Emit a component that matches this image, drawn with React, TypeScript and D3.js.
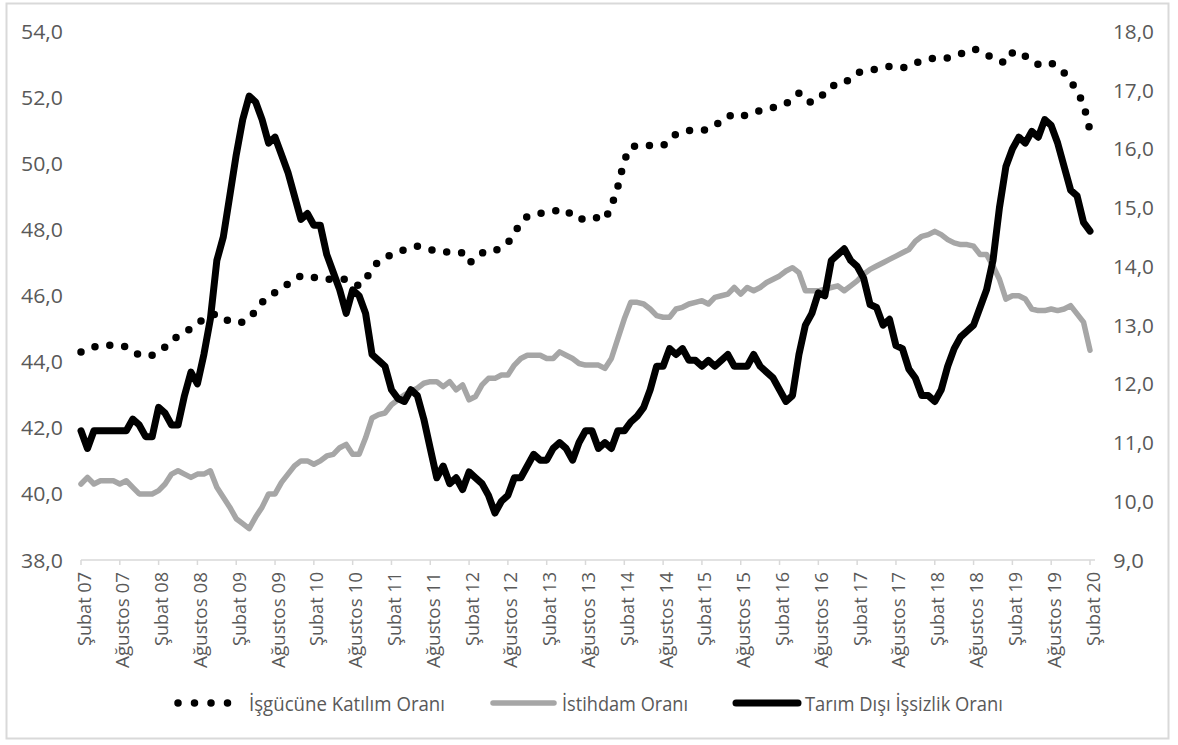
import React from "react";
import * as d3 from "d3";

// Monthly data, Şubat 2007 (index 0) .. Şubat 2020 (index 156)
const tickLabels = [
  "Şubat 07", "Ağustos 07", "Şubat 08", "Ağustos 08", "Şubat 09", "Ağustos 09",
  "Şubat 10", "Ağustos 10", "Şubat 11", "Ağustos 11", "Şubat 12", "Ağustos 12",
  "Şubat 13", "Ağustos 13", "Şubat 14", "Ağustos 14", "Şubat 15", "Ağustos 15",
  "Şubat 16", "Ağustos 16", "Şubat 17", "Ağustos 17", "Şubat 18", "Ağustos 18",
  "Şubat 19", "Ağustos 19", "Şubat 20",
];

const leftTicks = [38, 40, 42, 44, 46, 48, 50, 52, 54];
const rightTicks = [9, 10, 11, 12, 13, 14, 15, 16, 17, 18];

// İşgücüne Katılım Oranı (left axis)
const katilim = [
  44.3, 44.4, 44.45, 44.5, 44.5, 44.5, 44.5, 44.45, 44.35, 44.2,
  44.2, 44.2, 44.3, 44.45, 44.6, 44.8, 44.9, 45.0, 45.15, 45.3,
  45.4, 45.45, 45.35, 45.2, 45.2, 45.2, 45.3, 45.55, 45.8, 45.95,
  46.1, 46.25, 46.35, 46.5, 46.6, 46.6, 46.55, 46.55, 46.5, 46.5,
  46.5, 46.5, 46.4, 46.3, 46.5, 46.8, 47.05, 47.15, 47.25, 47.3,
  47.4, 47.45, 47.5, 47.45, 47.4, 47.35, 47.35, 47.3, 47.3, 47.3,
  47.0, 47.1, 47.3, 47.3, 47.35, 47.5, 47.6, 47.9, 48.2, 48.4,
  48.45, 48.5, 48.5, 48.55, 48.6, 48.6, 48.4, 48.3, 48.35, 48.4,
  48.35, 48.3, 48.7, 49.3, 50.1, 50.5, 50.55, 50.55, 50.55, 50.55,
  50.55, 50.7, 50.9, 50.95, 51.0, 51.0, 51.0, 51.05, 51.15, 51.3,
  51.45, 51.45, 51.4, 51.5, 51.55, 51.6, 51.65, 51.7, 51.75, 51.8,
  52.0, 52.13, 51.9, 51.85, 51.95, 52.15, 52.35, 52.4, 52.42, 52.6,
  52.75, 52.8, 52.83, 52.86, 52.9, 52.94, 52.92, 52.9, 52.95, 53.05,
  53.1, 53.15, 53.2, 53.2, 53.2, 53.25, 53.32, 53.4, 53.47, 53.42,
  53.3, 53.2, 53.1, 53.05, 53.35, 53.4, 53.25, 53.1, 53.0, 53.0,
  53.05, 52.9, 52.75, 52.5, 52.2, 51.8, 51.0,
];

// İstihdam Oranı (left axis)
const istihdam = [
  40.3, 40.5, 40.3, 40.4, 40.4, 40.4, 40.3, 40.4, 40.2, 40.0,
  40.0, 40.0, 40.1, 40.3, 40.6, 40.7, 40.6, 40.5, 40.6, 40.6,
  40.7, 40.2, 39.9, 39.6, 39.25, 39.1, 38.95, 39.3, 39.6, 40.0,
  40.0, 40.35, 40.6, 40.85, 41.0, 41.0, 40.9, 41.0, 41.15, 41.2,
  41.4, 41.5, 41.2, 41.2, 41.7, 42.3, 42.4, 42.45, 42.7, 42.85,
  43.0, 43.1, 43.2, 43.35, 43.4, 43.4, 43.25, 43.4, 43.15, 43.3,
  42.85, 42.95, 43.3, 43.5, 43.5, 43.6, 43.6, 43.9, 44.1, 44.2,
  44.2, 44.2, 44.1, 44.1, 44.3, 44.2, 44.1, 43.95, 43.9, 43.9,
  43.9, 43.8, 44.1, 44.7, 45.3, 45.8, 45.8, 45.75, 45.6, 45.4,
  45.35, 45.35, 45.6, 45.65, 45.75, 45.8, 45.85, 45.75, 45.95, 46.0,
  46.05, 46.25, 46.05, 46.25, 46.15, 46.25, 46.4, 46.5, 46.6, 46.75,
  46.85, 46.7, 46.15, 46.15, 46.15, 46.2, 46.25, 46.3, 46.15, 46.3,
  46.45, 46.65, 46.8, 46.9, 47.0, 47.1, 47.2, 47.3, 47.4, 47.65,
  47.8, 47.85, 47.95, 47.85, 47.7, 47.6, 47.55, 47.55, 47.5, 47.25,
  47.25, 46.9, 46.5, 45.9, 46.0, 46.0, 45.9, 45.6, 45.55, 45.55,
  45.6, 45.55, 45.6, 45.7, 45.45, 45.2, 44.35,
];

// Tarım Dışı İşsizlik Oranı (right axis)
const issizlik = [
  11.2, 10.9, 11.2, 11.2, 11.2, 11.2, 11.2, 11.2, 11.4, 11.3,
  11.1, 11.1, 11.6, 11.5, 11.3, 11.3, 11.8, 12.2, 12.0, 12.5,
  13.1, 14.1, 14.5, 15.2, 15.9, 16.5, 16.9, 16.8, 16.5, 16.1,
  16.2, 15.9, 15.6, 15.2, 14.8, 14.9, 14.7, 14.7, 14.2, 13.9,
  13.6, 13.2, 13.6, 13.5, 13.2, 12.5, 12.4, 12.3, 11.9, 11.75,
  11.7, 11.9, 11.8, 11.4, 10.9, 10.4, 10.6, 10.3, 10.4, 10.2,
  10.5, 10.4, 10.3, 10.1, 9.8, 10.0, 10.1, 10.4, 10.4, 10.6,
  10.8, 10.7, 10.7, 10.9, 11.0, 10.9, 10.7, 11.0, 11.2, 11.2,
  10.9, 11.0, 10.9, 11.2, 11.2, 11.35, 11.45, 11.6, 11.9, 12.3,
  12.3, 12.6, 12.5, 12.6, 12.4, 12.4, 12.3, 12.4, 12.3, 12.4,
  12.5, 12.3, 12.3, 12.3, 12.5, 12.3, 12.2, 12.1, 11.9, 11.7,
  11.8, 12.5, 13.0, 13.2, 13.55, 13.5, 14.1, 14.2, 14.3, 14.1,
  14.0, 13.8, 13.35, 13.3, 13.0, 13.1, 12.65, 12.6, 12.25, 12.1,
  11.8, 11.8, 11.7, 11.9, 12.3, 12.6, 12.8, 12.9, 13.0, 13.3,
  13.6, 14.1, 15.0, 15.7, 16.0, 16.2, 16.1, 16.3, 16.2, 16.5,
  16.4, 16.1, 15.7, 15.3, 15.2, 14.75, 14.6,
];

const legendItems = [
  "İşgücüne Katılım Oranı",
  "İstihdam Oranı",
  "Tarım Dışı İşsizlik Oranı",
];

const W = 1178;
const H = 745;
const FONT = "'Open Sans', 'Noto Sans', sans-serif";
const TEXT = "#595959";
const GRID = "#d9d9d9";

export default function App() {
  const n = katilim.length;
  const x = d3.scaleLinear().domain([0, n - 1]).range([81, 1090]);
  const yL = d3.scaleLinear().domain([38, 54]).range([560, 31.5]);
  const yR = d3.scaleLinear().domain([9, 18]).range([560, 31.5]);

  const lineL = d3
    .line<number>()
    .x((_, i) => x(i))
    .y((d) => yL(d));
  const lineR = d3
    .line<number>()
    .x((_, i) => x(i))
    .y((d) => yR(d));

  const axisY = 560;
  const tickStep = 6;

  return (
    <svg
      width={W}
      height={H}
      style={{ position: "absolute", left: 0, top: 0, background: "#fff" }}
      fontFamily={FONT}
    >
      <rect x={0} y={0} width={W} height={H} fill="#fff" />
      <rect x={6.5} y={3.5} width={1162} height={735} fill="none" stroke={GRID} strokeWidth={2} />

      {/* left axis labels */}
      {leftTicks.map((v) => (
        <text
          key={"l" + v}
          x={63}
          y={yL(v)}
          textAnchor="end"
          dominantBaseline="central"
          fontSize={19.5}
          fill={TEXT}
          textLength={42}
          lengthAdjust="spacingAndGlyphs"
        >
          {v.toFixed(1).replace(".", ",")}
        </text>
      ))}

      {/* right axis labels */}
      {rightTicks.map((v) => (
        <text
          key={"r" + v}
          x={1113}
          y={yR(v)}
          textAnchor="start"
          dominantBaseline="central"
          fontSize={19.5}
          fill={TEXT}
          textLength={v >= 10 ? 41 : 31}
          lengthAdjust="spacingAndGlyphs"
        >
          {v.toFixed(1).replace(".", ",")}
        </text>
      ))}

      {/* category axis */}
      <line x1={x(0)} x2={x(n - 1) + 5} y1={axisY} y2={axisY} stroke={GRID} strokeWidth={1.5} />
      {tickLabels.map((lab, k) => {
        const xi = x(k * tickStep);
        return (
          <g key={"t" + k}>
            <line x1={xi} x2={xi} y1={axisY} y2={axisY + 5} stroke={GRID} strokeWidth={1.5} />
            <text
              transform={`translate(${xi + 2},${axisY + 12}) rotate(-90)`}
              textAnchor="end"
              dominantBaseline="central"
              fontSize={18.5}
              fill={TEXT}
              textLength={lab.startsWith("Ş") ? 74 : 96}
              lengthAdjust="spacingAndGlyphs"
            >
              {lab}
            </text>
          </g>
        );
      })}

      {/* series */}
      <path
        d={lineL(katilim) || ""}
        fill="none"
        stroke="#000"
        strokeWidth={7.5}
        strokeLinecap="round"
        strokeLinejoin="round"
        strokeDasharray="0 15"
      />
      <path
        d={lineL(istihdam) || ""}
        fill="none"
        stroke="#a6a6a6"
        strokeWidth={5.5}
        strokeLinecap="round"
        strokeLinejoin="round"
      />
      <path
        d={lineR(issizlik) || ""}
        fill="none"
        stroke="#000"
        strokeWidth={7}
        strokeLinecap="round"
        strokeLinejoin="round"
      />

      {/* legend */}
      <g>
        <line x1={178} x2={229} y1={703} y2={703} stroke="#000" strokeWidth={7.5} strokeLinecap="round" strokeDasharray="0 16.5" />
        <text x={249} y={703} dominantBaseline="central" fontSize={19.5} fill={TEXT} textLength={196} lengthAdjust="spacingAndGlyphs">
          {legendItems[0]}
        </text>
        <line x1={493} x2={554} y1={703} y2={703} stroke="#a6a6a6" strokeWidth={5.5} strokeLinecap="round" />
        <text x={562} y={703} dominantBaseline="central" fontSize={19.5} fill={TEXT} textLength={126} lengthAdjust="spacingAndGlyphs">
          {legendItems[1]}
        </text>
        <line x1={736} x2={798} y1={703} y2={703} stroke="#000" strokeWidth={7} strokeLinecap="round" />
        <text x={805} y={703} dominantBaseline="central" fontSize={19.5} fill={TEXT} textLength={198} lengthAdjust="spacingAndGlyphs">
          {legendItems[2]}
        </text>
      </g>
    </svg>
  );
}
